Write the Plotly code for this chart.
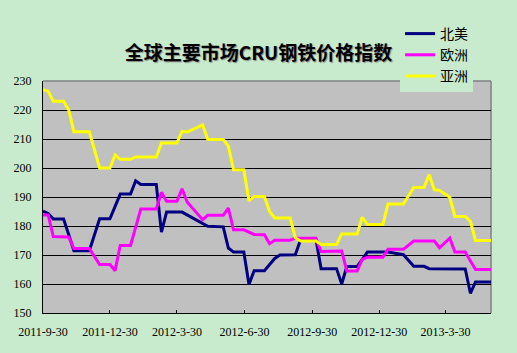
import plotly.graph_objects as go
import pandas as pd

start = pd.Timestamp("2011-09-30")

# weekly index (weeks since 2011-09-30) and index values
na_weeks = [0,1,2,4,5,6,9,11,13,15,17,18,19,22,23,24,27,32,35,36,37,39,40,41,43,45,46,49,50,53,54,57,58,59,61,63,67,70,72,74,75,82,83,84,87]
na_vals = [185.1,184.3,182.4,182.4,177,171.5,171.5,182.5,182.5,191,191,195.6,194.3,194.3,177.9,184.8,184.8,179.9,179.7,172.4,171,171,159.8,164.6,164.6,168.8,170,170.1,175.2,175.4,165.3,165.3,160,166,166,171,171,170.1,166.1,166.1,165.3,165.2,156.8,160.7,160.7]

eu_weeks = [0,1,2,5,6,9,11,13,14,15,17,19,22,23,24,26,27,28,31,32,35,36,37,39,41,43,44,45,48,49,53,54,58,59,61,62,63,66,67,70,72,76,77,79,80,82,84,87]
eu_vals = [183.8,183.8,176.4,176.2,172.2,172.2,166.7,166.7,164.6,173.3,173.3,185.9,185.9,191.6,188.5,188.5,192.8,188.3,182.2,183.7,183.7,186.2,178.7,178.7,177.1,177,173.9,175.1,175.1,175.8,175.8,171.2,171.4,164.5,164.5,168.5,169.2,169.2,172,172,174.8,174.8,172.5,175.8,171,171,165,165]

as_weeks = [0,1,2,4,5,6,9,11,13,14,15,17,18,22,23,26,27,28,31,32,35,36,37,39,40,41,43,44,45,48,49,50,53,54,57,58,61,62,63,66,67,70,72,74,75,76,77,79,80,82,83,84,87]
as_vals = [227,226.5,223,223,220,212.5,212.5,200,200,204.5,203,203,203.8,203.8,208.6,208.6,212.6,212.4,214.9,209.8,209.8,207.5,199.4,199.4,188.7,190.2,190.2,185,182.8,182.8,175.9,174.8,174.8,173.6,173.6,177.2,177.2,183,180.5,180.5,187.6,187.6,193.3,193.3,197.7,192.5,192.3,189.9,183.3,183.3,181.6,175,175]

series_names = ["北美", "欧洲", "亚洲"]
series_colors = ["#000080", "#FF00FF", "#FFFF00"]

tick_dates = ["2011-09-30", "2011-12-30", "2012-03-30", "2012-06-30", "2012-09-30", "2012-12-30", "2013-03-30"]
tick_text = ["2011-9-30", "2011-12-30", "2012-3-30", "2012-6-30", "2012-9-30", "2012-12-30", "2013-3-30"]
y_ticks = [150, 160, 170, 180, 190, 200, 210, 220, 230]


def to_dates(weeks):
    return [start + pd.Timedelta(days=7 * w) for w in weeks]


fig = go.Figure()
for name, color, wk, vals in zip(series_names, series_colors,
                                 [na_weeks, eu_weeks, as_weeks],
                                 [na_vals, eu_vals, as_vals]):
    fig.add_trace(go.Scatter(x=to_dates(wk), y=vals, mode="lines", name=name,
                             legendgroup=name,
                             line=dict(color=color, width=3)))

paper_bg = "rgb(199,235,204)"
end_date = start + pd.Timedelta(days=7 * 87)

fig.update_layout(
    width=517, height=353,
    margin=dict(l=43, r=26, t=81, b=40),
    paper_bgcolor=paper_bg,
    plot_bgcolor="#C0C0C0",
    title=dict(text="<b>全球主要市场CRU钢铁价格指数</b>", x=0.5, xref="container",
               y=1 - 53 / 353, yref="container", xanchor="center", yanchor="middle",
               font=dict(family="Noto Sans CJK SC", size=19, color="#000000",
                         shadow="1px 1px 1px #888888")),
    legend=dict(x=0.797, xanchor="left", y=1.0 + 63 / 232, yanchor="top",
                bgcolor=paper_bg, borderwidth=0, tracegroupgap=0,
                font=dict(family="Noto Sans CJK SC", size=14, color="#000000"),
                itemwidth=30),
    showlegend=True,
)

fig.update_xaxes(
    type="date", range=[start, end_date],
    tickvals=tick_dates, ticktext=tick_text,
    ticks="inside", ticklen=3, tickcolor="#000000",
    showgrid=False, zeroline=False,
    showline=True, linecolor="#000000", linewidth=1, mirror=False,
    tickfont=dict(family="Liberation Serif", size=12, color="#000000"),
    ticklabelstandoff=8,
)
fig.update_yaxes(
    range=[150, 230], tickvals=y_ticks,
    showgrid=True, gridcolor="#000000", gridwidth=1,
    ticks="", zeroline=False,
    showline=True, linecolor="#000000", linewidth=1,
    tickfont=dict(family="Liberation Serif", size=12, color="#000000"),
    ticklabelstandoff=8,
)

# gray frame on top and right like the reference
fig.add_shape(type="line", xref="paper", yref="paper", x0=0, x1=1, y0=1, y1=1,
              line=dict(color="#808080", width=1.5), layer="below")
fig.add_shape(type="line", xref="paper", yref="paper", x0=1, x1=1, y0=0, y1=1,
              line=dict(color="#808080", width=1.5), layer="below")

fig.write_html("out.html")
